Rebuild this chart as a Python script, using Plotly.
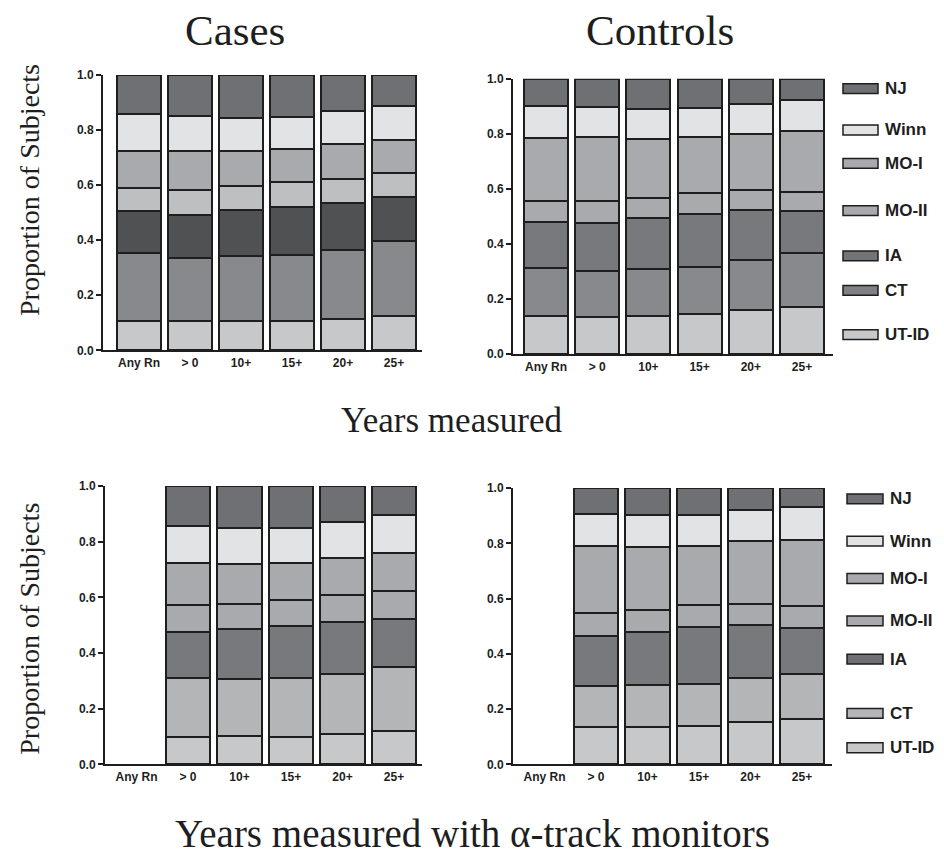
import plotly.graph_objects as go

# ---------------- data ----------------
categories = ["Any Rn", "> 0", "10+", "15+", "20+", "25+"]
series = ["UT-ID", "CT", "IA", "MO-II", "MO-I", "Winn", "NJ"]  # bottom -> top
legend_order = ["NJ", "Winn", "MO-I", "MO-II", "IA", "CT", "UT-ID"]
y_ticks = [0.0, 0.2, 0.4, 0.6, 0.8, 1.0]

# proportions per series (rows follow `series`), columns follow `categories`
cases_years = [
    [0.105, 0.105, 0.105, 0.107, 0.114, 0.125],  # UT-ID
    [0.249, 0.231, 0.237, 0.239, 0.250, 0.271],  # CT
    [0.151, 0.155, 0.167, 0.175, 0.171, 0.159],  # IA
    [0.085, 0.092, 0.086, 0.089, 0.087, 0.088],  # MO-II
    [0.135, 0.142, 0.128, 0.121, 0.127, 0.122],  # MO-I
    [0.132, 0.125, 0.121, 0.117, 0.120, 0.123],  # Winn
    [0.143, 0.150, 0.156, 0.152, 0.131, 0.112],  # NJ
]
controls_years = [
    [0.140, 0.137, 0.140, 0.145, 0.160, 0.172],
    [0.172, 0.166, 0.171, 0.173, 0.184, 0.196],
    [0.169, 0.172, 0.182, 0.193, 0.179, 0.151],
    [0.077, 0.080, 0.075, 0.075, 0.074, 0.071],
    [0.228, 0.235, 0.213, 0.203, 0.202, 0.220],
    [0.114, 0.109, 0.109, 0.104, 0.110, 0.113],
    [0.100, 0.101, 0.110, 0.107, 0.091, 0.077],
]
cases_alpha = [
    [None, 0.098, 0.102, 0.100, 0.108, 0.120],
    [None, 0.211, 0.205, 0.209, 0.218, 0.230],
    [None, 0.166, 0.178, 0.190, 0.185, 0.172],
    [None, 0.097, 0.093, 0.092, 0.098, 0.100],
    [None, 0.151, 0.141, 0.134, 0.133, 0.138],
    [None, 0.134, 0.130, 0.124, 0.130, 0.135],
    [None, 0.143, 0.151, 0.151, 0.128, 0.105],
]
controls_alpha = [
    [None, 0.134, 0.136, 0.140, 0.154, 0.164],
    [None, 0.151, 0.152, 0.152, 0.160, 0.165],
    [None, 0.180, 0.192, 0.206, 0.190, 0.163],
    [None, 0.083, 0.080, 0.080, 0.077, 0.080],
    [None, 0.243, 0.225, 0.214, 0.226, 0.241],
    [None, 0.114, 0.117, 0.112, 0.112, 0.118],
    [None, 0.095, 0.098, 0.096, 0.081, 0.069],
]

# ---------------- styles ----------------
W, H = 944, 859
colors_top_cases = {"UT-ID": "#c7c8ca", "CT": "#88898c", "IA": "#505153", "MO-II": "#bebfc1",
                    "MO-I": "#a9aaad", "Winn": "#e2e3e5", "NJ": "#6f7073"}
colors_top_ctrl = {"UT-ID": "#c7c8ca", "CT": "#88898c", "IA": "#78797c", "MO-II": "#a9aaad",
                   "MO-I": "#a9aaad", "Winn": "#e2e3e5", "NJ": "#6f7073"}
colors_bottom = {"UT-ID": "#c7c8ca", "CT": "#b4b5b7", "IA": "#78797c", "MO-II": "#a9aaad",
                 "MO-I": "#a9aaad", "Winn": "#e2e3e5", "NJ": "#6f7073"}

SERIF = "Liberation Serif, Times New Roman, serif"
SANS = "Liberation Sans, Arial, sans-serif"
INK = "#1e1e1e"

def px_x(p):
    return p / W

def px_y(p):
    return 1 - p / H

# panel geometry in pixels: (x_left, x_right, y_top, y_bottom, center_of_first, pitch)
panels = [
    (cases_years, colors_top_cases, (103, 422, 69, 349, 139, 51.0)),
    (controls_years, colors_top_ctrl, (513, 833, 73, 353, 546, 51.2)),
    (cases_alpha, colors_bottom, (105, 422, 487, 770, 136.5, 51.5)),
    (controls_alpha, colors_bottom, (513, 832, 489, 770, 544.5, 51.5)),
]

fig = go.Figure()
layout = {}
for i, (data, cols, geo) in enumerate(panels):
    xl, xr, yt, yb, c0, pitch = geo
    sfx = "" if i == 0 else str(i + 1)
    xa, ya = "x" + sfx, "y" + sfx
    for name, vals in zip(series, data):
        fig.add_trace(go.Bar(
            x=categories, y=vals, name=name, xaxis=xa, yaxis=ya,
            marker=dict(color=cols[name], line=dict(color=INK, width=2)),
            showlegend=False, hoverinfo="x+y+name",
        ))
    layout["xaxis" + sfx] = dict(
        domain=[px_x(xl), px_x(xr)], anchor=ya,
        type="category", categoryorder="array", categoryarray=categories,
        range=[(xl - c0) / pitch, (xr - c0) / pitch],
        showline=True, linecolor=INK, linewidth=2, ticks="", showgrid=False,
        zeroline=False, tickfont=dict(family=SANS, size=12, color=INK, weight="bold"),
        fixedrange=True,
    )
    layout["yaxis" + sfx] = dict(
        domain=[px_y(yb), px_y(yt)], anchor=xa, range=[0, 1],
        tickvals=y_ticks, tickformat=".1f",
        showline=True, linecolor=INK, linewidth=2, ticks="outside", ticklen=5,
        tickwidth=2, tickcolor=INK, showgrid=False, zeroline=False,
        tickfont=dict(family=SANS, size=12, color=INK, weight="bold"),
        fixedrange=True,
    )

fig.update_layout(
    width=W, height=H, margin=dict(l=0, r=0, t=0, b=0),
    paper_bgcolor="white", plot_bgcolor="white",
    barmode="stack", bargap=0.14, showlegend=False,
    **layout,
)

# ---------------- text ----------------
def text(x, y, s, size, angle=0, family=SERIF, color=INK, xanchor="center", bold=False):
    fig.add_annotation(x=px_x(x), y=px_y(y), xref="paper", yref="paper", text=s,
                       showarrow=False, textangle=angle, xanchor=xanchor, yanchor="middle",
                       font=dict(family=family, size=size, color=color,
                                 weight="bold" if bold else "normal"))

text(235, 24, "Cases", 43)
text(660, 24, "Controls", 43)
text(451, 420, "Years measured", 35)
text(472, 840, "Years measured with α-track monitors", 39)
text(30, 186, "Proportion of Subjects", 28, angle=-90)
text(30, 632, "Proportion of Subjects", 28, angle=-90)

# ---------------- legends (drawn manually) ----------------
legend_top = {"x0": 843, "x1": 878, "tx": 883,
              "ys": [83, 125, 159, 207, 253, 288, 333]}
legend_bot = {"x0": 847, "x1": 883, "tx": 888,
              "ys": [500, 543, 581, 624, 663, 718, 753]}
legend_top["colors"] = dict(colors_top_ctrl, IA="#737477", CT="#808184")
legend_bot["colors"] = dict(colors_bottom, IA="#6f7073")

for lg in (legend_top, legend_bot):
    for name, yc in zip(legend_order, lg["ys"]):
        fig.add_shape(type="rect", xref="paper", yref="paper",
                      x0=px_x(lg["x0"]), x1=px_x(lg["x1"]),
                      y0=px_y(yc + 5), y1=px_y(yc - 5),
                      fillcolor=lg["colors"][name], line=dict(color=INK, width=1.5))
        text(lg["tx"], yc, name, 17, family=SANS, xanchor="left", bold=True)

fig.write_html("out.html")
